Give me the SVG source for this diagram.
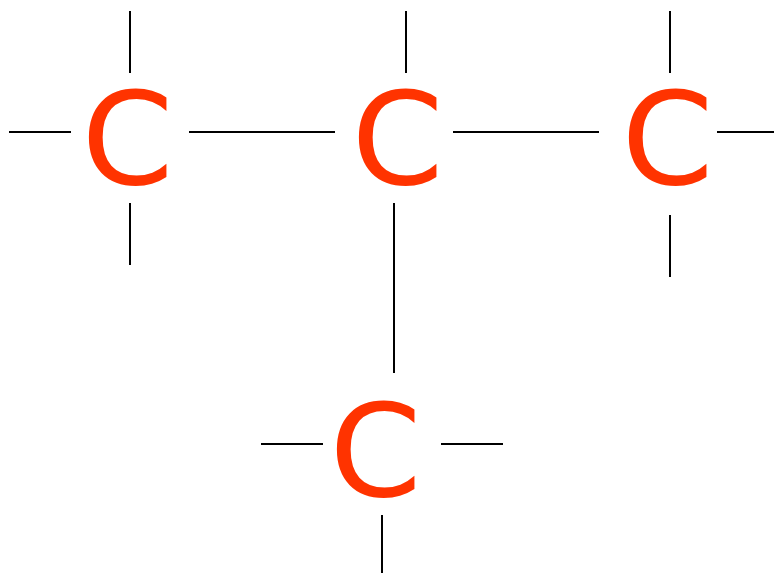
<svg xmlns="http://www.w3.org/2000/svg" width="774" height="573" viewBox="0 0 774 573">
<style>
.c{font-family:"DejaVu Sans",sans-serif;font-size:128px;fill:#ff3300}
line{stroke:#000;stroke-width:2;fill:none;stroke-linecap:square}
</style>
<rect width="774" height="573" fill="#fff"/>
<g id="connectors">
<line x1="130" y1="12" x2="130" y2="72"/>
<line x1="10" y1="132" x2="70" y2="132"/>
<line x1="130" y1="204" x2="130" y2="264"/>
<line x1="190" y1="132" x2="334" y2="132"/>
<line x1="406" y1="12" x2="406" y2="72"/>
<line x1="454" y1="132" x2="598" y2="132"/>
<line x1="394" y1="204" x2="394" y2="372"/>
<line x1="670" y1="12" x2="670" y2="72"/>
<line x1="718" y1="132" x2="774" y2="132"/>
<line x1="670" y1="216" x2="670" y2="276"/>
<line x1="262" y1="444" x2="322" y2="444"/>
<line x1="442" y1="444" x2="502" y2="444"/>
<line x1="382" y1="516" x2="382" y2="573"/>
</g>
<g id="c1"><text class="c" transform="translate(81.5 183.5) scale(1.03 1)">C</text></g>
<g id="c2"><text class="c" transform="translate(351.5 183.5) scale(1.03 1)">C</text></g>
<g id="c3"><text class="c" transform="translate(621.5 183.5) scale(1.03 1)">C</text></g>
<g id="c4"><text class="c" transform="translate(329.5 495.5) scale(1.03 1)">C</text></g>
</svg>
